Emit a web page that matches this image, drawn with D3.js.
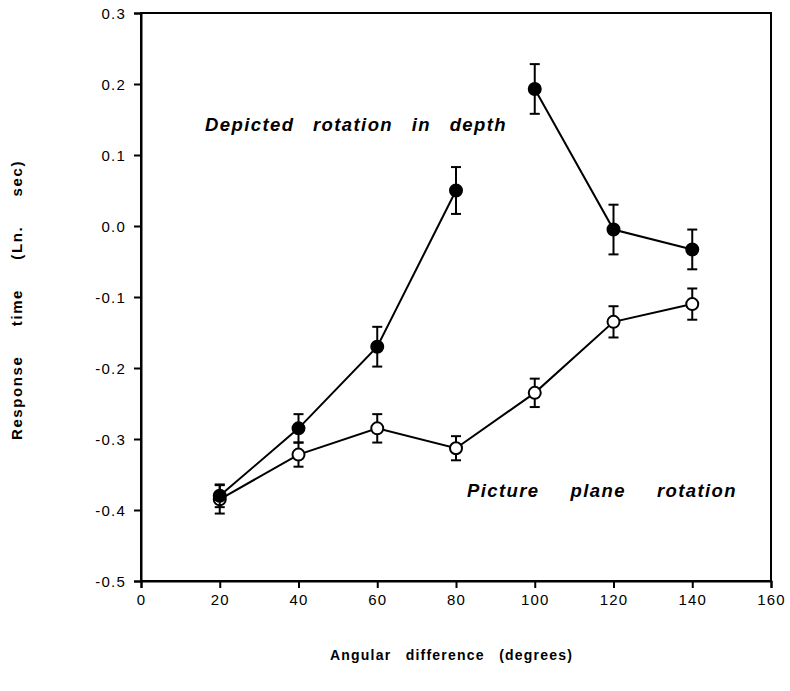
<!DOCTYPE html>
<html><head><meta charset="utf-8">
<script src="https://cdn.jsdelivr.net/npm/d3@7"></script>
<style>body{margin:0;background:#fff;} text{font-family:"Liberation Sans",Arial,sans-serif;}</style>
</head><body><svg id="c" width="790" height="691"></svg>
<script>
const angles = [20, 40, 60, 80, 100, 120, 140];
const depthMean = [-0.380, -0.285, -0.170, 0.050, 0.193, -0.005, -0.033];
const depthErr  = [0.016, 0.020, 0.028, 0.033, 0.035, 0.035, 0.028];
const depthSegment = [1, 1, 1, 1, 2, 2, 2];
const planeMean = [-0.385, -0.322, -0.285, -0.313, -0.235, -0.135, -0.110];
const planeErr  = [0.020, 0.017, 0.020, 0.017, 0.020, 0.022, 0.022];
const planeSegment = [1, 1, 1, 1, 1, 1, 1];
const xTicks = [0, 20, 40, 60, 80, 100, 120, 140, 160];
const yTicks = [0.3, 0.2, 0.1, 0.0, -0.1, -0.2, -0.3, -0.4, -0.5];

const svg = d3.select("#c");
const x = d3.scaleLinear().domain([0,160]).range([141,771]);
const y = d3.scaleLinear().domain([-0.5,0.3]).range([581,13]);

svg.append("rect").attr("x",x(0)).attr("y",y(0.3)).attr("width",x(160)-x(0)).attr("height",y(-0.5)-y(0.3))
  .attr("fill","none").attr("stroke","#000").attr("stroke-width",2);

const fmtY = d => d3.format(".1f")(d).replace("−","-");
const xAxis = svg.append("g").attr("transform",`translate(0,${y(-0.5)})`)
  .call(d3.axisBottom(x).tickValues(xTicks).tickSize(7).tickPadding(6).tickFormat(d3.format("d")));
const yAxis = svg.append("g").attr("transform",`translate(${x(0)},0)`)
  .call(d3.axisLeft(y).tickValues(yTicks).tickSize(7).tickPadding(8).tickFormat(fmtY));
[xAxis,yAxis].forEach(a=>{
  a.select(".domain").attr("stroke-width",2);
  a.selectAll(".tick line").attr("stroke-width",2);
  a.selectAll("text").attr("font-size",15).attr("fill","#000").style("letter-spacing","1.2px");
});
yAxis.selectAll("text").attr("dy","0.35em");

function series(means, errs, segs, filled){
  const data = angles.map((a,i)=>({a, m:means[i], e:errs[i], s:segs[i]}));
  const line = d3.line().x(d=>x(d.a)).y(d=>y(d.m));
  const g = svg.append("g");
  for (const [, pts] of d3.group(data, d=>d.s)) {
    g.append("path").datum(pts).attr("d",line).attr("fill","none").attr("stroke","#000").attr("stroke-width",2);
  }
  const eb = g.selectAll(".eb").data(data).join("g");
  eb.append("line").attr("x1",d=>x(d.a)).attr("x2",d=>x(d.a)).attr("y1",d=>y(d.m+d.e)).attr("y2",d=>y(d.m-d.e))
    .attr("stroke","#000").attr("stroke-width",2);
  [1,-1].forEach(s=>{
    eb.append("line").attr("x1",d=>x(d.a)-5).attr("x2",d=>x(d.a)+5)
      .attr("y1",d=>y(d.m+s*d.e)).attr("y2",d=>y(d.m+s*d.e)).attr("stroke","#000").attr("stroke-width",2);
  });
  g.selectAll("circle").data(data).join("circle").attr("cx",d=>x(d.a)).attr("cy",d=>y(d.m)).attr("r",6)
    .attr("fill",filled?"#000":"#fff").attr("stroke","#000").attr("stroke-width",2);
}
series(planeMean, planeErr, planeSegment, false);
series(depthMean, depthErr, depthSegment, true);

function fitted(sel, target){
  const node = sel.node();
  const spaces = (node.textContent.match(/ /g)||[]).length;
  sel.style("word-spacing","0px");
  const w = node.getComputedTextLength();
  sel.style("word-spacing", Math.max(0,(target-w)/spaces)+"px");
  return sel;
}
fitted(svg.append("text").attr("x",205).attr("y",131).attr("font-size",18.5).attr("font-weight","bold").attr("font-style","italic")
  .style("letter-spacing","1.4px").text("Depicted rotation in depth"), 302);
fitted(svg.append("text").attr("x",467).attr("y",497).attr("font-size",18.5).attr("font-weight","bold").attr("font-style","italic")
  .style("letter-spacing","1.4px").text("Picture plane rotation"), 270);

fitted(svg.append("text").attr("transform","translate(22,440) rotate(-90)")
  .attr("font-size",15).attr("font-weight","bold").style("letter-spacing","1.6px")
  .text("Response time (Ln. sec)"), 280);
fitted(svg.append("text").attr("x",330).attr("y",660)
  .attr("font-size",14).attr("font-weight","bold").style("letter-spacing","1.2px")
  .text("Angular difference (degrees)"), 243);
</script></body></html>
